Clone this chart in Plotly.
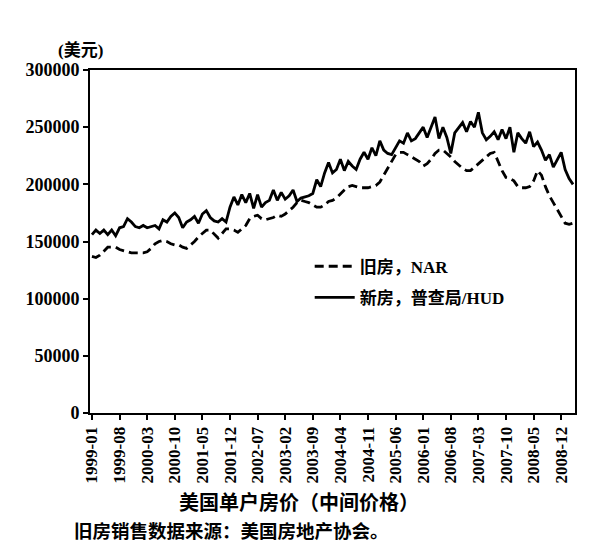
import plotly.graph_objects as go

# Monthly categories 1999-01 .. 2009-03
months = [f"{1999 + i // 12}-{i % 12 + 1:02d}" for i in range(123)]

# New homes median price (Census/HUD), USD
new_home = [
    156000, 160000, 157000, 160000, 156000, 160000, 155000, 162000, 163000, 170000,
    167000, 163000, 162000, 164000, 162000, 163000, 164000, 161000, 169000, 167000,
    172000, 175000, 171000, 162000, 167000, 169000, 172000, 166000, 174000, 177000,
    171000, 168000, 167000, 170000, 167000, 180000, 189000, 182000, 191000, 184000,
    192000, 179000, 191000, 180000, 184000, 186000, 195000, 186000, 193000, 187000,
    190000, 195000, 185000, 188000, 189000, 190000, 192000, 204000, 198000, 210000,
    219000, 210000, 213000, 222000, 212000, 220000, 216000, 213000, 222000, 228000,
    222000, 232000, 225000, 238000, 230000, 227000, 226000, 232000, 238000, 236000,
    245000, 238000, 240000, 245000, 250000, 241000, 250000, 259000, 240000, 250000,
    241000, 227000, 245000, 250000, 254000, 246000, 255000, 250000, 263000, 245000,
    239000, 242000, 246000, 239000, 248000, 240000, 250000, 228000, 245000, 240000,
    236000, 246000, 233000, 237000, 230000, 221000, 226000, 215000, 222000, 228000,
    213000, 205000, 200000,
]

# Existing homes median price (NAR), USD
existing_home = [
    137000, 136000, 138000, 142000, 145000, 145000, 145000, 143000, 142000, 141000,
    140000, 140000, 140000, 140000, 141000, 144000, 148000, 150000, 151000, 150000,
    148000, 147000, 147000, 145000, 144000, 147000, 150000, 154000, 157000, 160000,
    160000, 156000, 153000, 157000, 161000, 161000, 160000, 158000, 161000, 164000,
    170000, 172000, 173000, 170000, 169000, 170000, 171000, 173000, 172000, 174000,
    177000, 180000, 184000, 186000, 185000, 184000, 182000, 180000, 180000, 182000,
    185000, 186000, 188000, 192000, 195000, 198000, 199000, 198000, 197000, 197000,
    197000, 198000, 199000, 202000, 208000, 213000, 220000, 226000, 228000, 228000,
    226000, 224000, 222000, 220000, 216000, 218000, 222000, 227000, 230000, 230000,
    227000, 224000, 220000, 217000, 214000, 212000, 212000, 215000, 218000, 221000,
    224000, 227000, 228000, 220000, 212000, 206000, 205000, 203000, 198000, 197000,
    197000, 198000, 203000, 212000, 208000, 198000, 190000, 184000, 178000, 172000,
    166000, 165000, 166000,
]

tick_labels = months[0:120:7]
y_ticks = [0, 50000, 100000, 150000, 200000, 250000, 300000]

name_existing = "旧房，NAR"
name_new = "新房，普查局/HUD"
y_unit = "(美元)"
x_title = "美国单户房价（中间价格）"
source_note = "旧房销售数据来源：美国房地产协会。"

num_fam = "Liberation Serif, Noto Sans CJK SC, serif"
cjk_fam = "Noto Sans CJK SC, sans-serif"
leg_fam = "Liberation Serif, Noto Sans CJK SC, serif"

fig = go.Figure()
fig.add_trace(go.Scatter(
    x=months, y=existing_home, mode="lines", name=name_existing,
    legendgroup="a",
    line=dict(color="black", width=2.8, dash="9px,5px"),
))
fig.add_trace(go.Scatter(
    x=months, y=new_home, mode="lines", name=name_new,
    legendgroup="b",
    line=dict(color="black", width=2.8),
))

fig.update_layout(
    width=600, height=551,
    margin=dict(l=82, r=33, t=62, b=146),
    paper_bgcolor="white", plot_bgcolor="white",
    font=dict(family=num_fam, color="black"),
    showlegend=True,
    legend=dict(
        x=0.453, y=0.479, xanchor="left", yanchor="top",
        bgcolor="rgba(0,0,0,0)", borderwidth=0,
        font=dict(family=leg_fam, size=17, color="black", weight="bold"),
        traceorder="grouped", tracegroupgap=6, itemwidth=40,
    ),
    xaxis=dict(
        type="category", categoryorder="array", categoryarray=months,
        range=[-0.5, 122.5],
        tickmode="array", tickvals=tick_labels, ticktext=tick_labels,
        tickangle=-90, ticks="outside", ticklen=5, tickwidth=1.5, tickcolor="black",
        tickfont=dict(family=num_fam, size=17, color="black", weight="bold"),
        showline=True, linecolor="black", linewidth=2, mirror=True,
        showgrid=False, zeroline=False,
    ),
    yaxis=dict(
        range=[0, 300000],
        tickmode="array", tickvals=y_ticks, ticktext=[str(v) for v in y_ticks],
        ticks="outside", ticklen=5, tickwidth=1.5, tickcolor="black",
        tickfont=dict(family=num_fam, size=18, color="black", weight="bold"),
        showline=True, linecolor="black", linewidth=2, mirror=True,
        showgrid=False, zeroline=False,
    ),
    annotations=[
        dict(text=y_unit, xref="paper", yref="paper", x=-0.019, y=1.0, yshift=20,
             xanchor="center", yanchor="middle", showarrow=False,
             font=dict(family=leg_fam, size=17, color="black", weight="bold")),
        dict(text=x_title, xref="paper", yref="paper", x=0.43, y=0, yshift=-88,
             xanchor="center", yanchor="middle", showarrow=False,
             font=dict(family=cjk_fam, size=20, color="black", weight="bold")),
        dict(text=source_note, xref="paper", yref="paper", x=-0.037, y=0, yshift=-117,
             xanchor="left", yanchor="middle", showarrow=False,
             font=dict(family=cjk_fam, size=18.5, color="black", weight="bold")),
    ],
)

fig.write_html("out.html")
